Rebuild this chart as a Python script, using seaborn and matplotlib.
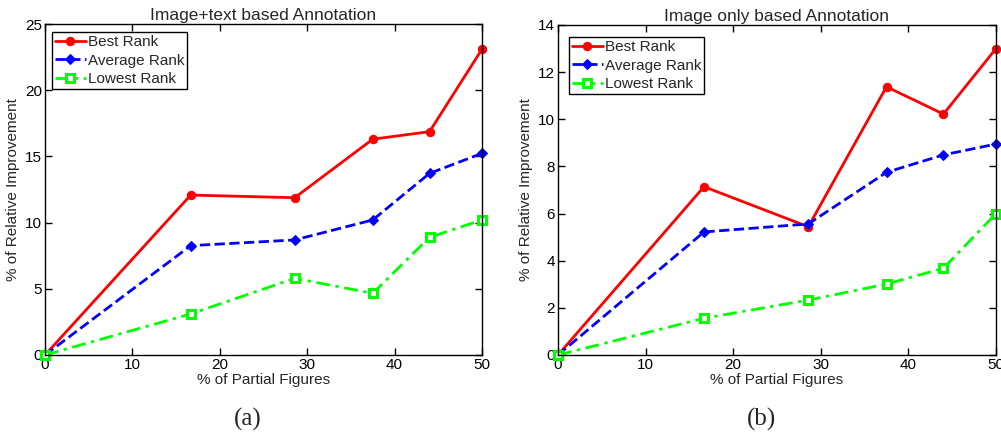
import numpy as np
import pandas as pd
import seaborn as sns
import matplotlib
matplotlib.use("Agg")
import matplotlib.pyplot as plt

# ---- data ----
x_partial = [0, 16.67, 28.57, 37.5, 44.0, 50]

a_best = [0, 12.08, 11.88, 16.3, 16.87, 23.1]
a_avg = [0, 8.26, 8.69, 10.2, 13.72, 15.23]
a_low = [0, 3.1, 5.79, 4.66, 8.89, 10.2]

b_best = [0, 7.14, 5.44, 11.38, 10.22, 13.0]
b_avg = [0, 5.22, 5.56, 7.75, 8.49, 8.95]
b_low = [0, 1.56, 2.33, 3.01, 3.68, 6.0]

series_names = ["Best Rank", "Average Rank", "Lowest Rank"]
titles = ["Image+text based Annotation", "Image only based Annotation"]
panel_labels = ["(a)", "(b)"]
ylims = [25, 14]
yticks = [[0, 5, 10, 15, 20, 25], [0, 2, 4, 6, 8, 10, 12, 14]]
xticks = [0, 10, 20, 30, 40, 50]

sns.set_style("ticks")
plt.rcParams["font.family"] = ["Liberation Sans", "DejaVu Sans"]
plt.rcParams["xtick.direction"] = "in"
plt.rcParams["ytick.direction"] = "in"

fig = plt.figure(figsize=(10.01, 4.41), dpi=100)
ax_a = fig.add_axes([45 / 1001, 1 - 355 / 441, 437 / 1001, 331 / 441])
ax_b = fig.add_axes([558 / 1001, 1 - 355 / 441, 438 / 1001, 330 / 441])

styles = [
    dict(color=(1, 0, 0), linestyle="-", marker="o", markersize=6,
         markerfacecolor=(1, 0, 0), markeredgecolor=(1, 0, 0)),
    dict(color=(0, 0, 1), linestyle="--", marker="D", markersize=5,
         markerfacecolor=(0, 0, 1), markeredgecolor=(0, 0, 1)),
    dict(color=(0, 1, 0), linestyle=(0, (5, 2, 1.2, 2)), marker="s", markersize=5.5,
         markerfacecolor="white", markeredgecolor=(0, 1, 0), markeredgewidth=2.2),
]

legend_anchor = [(7 / 437, 1 - 8 / 331), (11 / 438, 1 - 12 / 330)]

panels = [(ax_a, [a_best, a_avg, a_low]), (ax_b, [b_best, b_avg, b_low])]
for i, (ax, ys) in enumerate(panels):
    for name, y, st in zip(series_names, ys, styles):
        df = pd.DataFrame({"x": x_partial, "y": y})
        sns.lineplot(data=df, x="x", y="y", ax=ax, label=name, linewidth=2,
                     **st)
    ax.set_xlim(0, 50)
    ax.set_ylim(0, ylims[i])
    ax.set_xticks(xticks)
    ax.set_yticks(yticks[i])
    ax.tick_params(axis="both", which="both", direction="in", top=True,
                   right=True, length=5, width=1, labelsize=11, pad=2,
                   colors="black")
    for sp in ax.spines.values():
        sp.set_visible(True)
        sp.set_color("black")
        sp.set_linewidth(1)
    ax.set_xlabel("% of Partial Figures", fontsize=11, labelpad=1)
    ax.set_ylabel("% of Relative Improvement", fontsize=11, labelpad=4)
    ax.set_title(titles[i], fontsize=12.5, pad=3)
    leg = ax.legend(loc="upper left", bbox_to_anchor=legend_anchor[i],
                    fontsize=11, frameon=True, fancybox=False,
                    edgecolor="black", framealpha=1, handlelength=2.0,
                    borderpad=0.2, labelspacing=0.3, handletextpad=0.15,
                    borderaxespad=0.0)
    leg.get_frame().set_linewidth(1)
    for line in ax.get_lines():
        line.set_clip_on(False)

fig.text(248 / 1001, 1 - 419 / 441, panel_labels[0], ha="center", va="center",
         fontsize=18, family=["Liberation Serif", "DejaVu Serif"])
fig.text(762 / 1001, 1 - 419 / 441, panel_labels[1], ha="center", va="center",
         fontsize=18, family=["Liberation Serif", "DejaVu Serif"])

fig.savefig("out.png", dpi=100, facecolor="white")
